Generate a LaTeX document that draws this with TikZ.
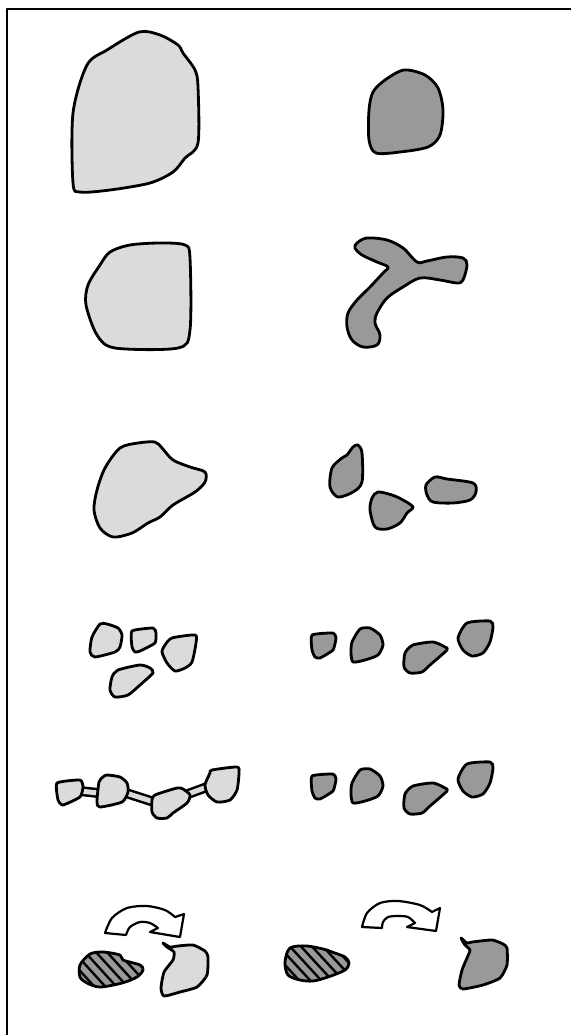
\documentclass[tikz,border=0pt]{standalone}
\usepackage{tikz}
\definecolor{lightgrain}{gray}{0.86}
\definecolor{darkgrain}{gray}{0.6}
\begin{document}
\begin{tikzpicture}[x=1pt,y=-1pt,line join=round,
  grain/.style={draw=black,line width=2.8pt},
  light/.style={grain,fill=lightgrain},
  dark/.style={grain,fill=darkgrain},
  turn/.style={draw=black,line width=2.2pt,fill=white},
  hatchline/.style={line width=2.4pt,black}]
  \useasboundingbox (0,0) rectangle (571,1035);
  \draw[line width=2pt] (7,1035) -- (7,9) -- (571,9);
  % row 1
  \draw[light] plot[smooth cycle,tension=0.5] coordinates {(139,32)(160,35)(178,45)(183,53)(195,70)(198,87)(198,143)(185,158)(173,172)(150,183)(110,190)(80,192)(73,183)(73,113)(87,65)(107,50)};
  \draw[dark] plot[smooth cycle,tension=0.5] coordinates {(404,70)(425,75)(438,88)(443,110)(440,135)(428,147)(400,152)(376,153)(369,140)(369,110)(373,92)(385,80)};
  % row 2
  \draw[light] plot[smooth cycle,tension=0.5] coordinates {(110,252)(130,245)(160,243)(185,245)(190,258)(190,330)(178,348)(115,348)(97,335)(86,305)(88,285)(100,265)};
  \draw[dark] plot[smooth cycle,tension=0.55] coordinates {(357,243)(367,238)(387,240)(403,248)(417,262)(427,261)(447,257)(463,258)(467,265)(463,280)(457,283)(440,280)(420,278)(403,287)(387,298)(377,313)(375,323)(380,335)(377,345)(363,347)(352,340)(347,327)(348,313)(357,300)(370,287)(383,273)(388,267)(377,262)(362,255)(355,248)};
  % row 3
  \draw[light] plot[smooth cycle,tension=0.5] coordinates {(120,448)(138,443)(155,442)(162,448)(173,460)(190,467)(205,472)(205,482)(195,492)(173,505)(160,517)(148,523)(132,533)(113,537)(100,528)(94,510)(97,490)(105,468)};
  \draw[dark] plot[smooth cycle,tension=0.5] coordinates {(358,445)(362,453)(362,482)(353,492)(338,497)(330,487)(332,468)(342,458)(347,455)(353,447)};
  \draw[dark] plot[smooth cycle,tension=0.5] coordinates {(378,492)(392,495)(403,500)(413,507)(407,513)(400,523)(387,529)(375,527)(370,510)(372,498)};
  \draw[dark] plot[smooth cycle,tension=0.5] coordinates {(435,477)(447,479)(473,483)(476,492)(470,500)(453,503)(433,502)(427,495)(426,485)};
  % row 4 left
  \draw[light] plot[smooth cycle,tension=0.4] coordinates {(100,624)(107,624)(118,628)(122,635)(120,647)(115,652)(95,657)(90,652)(92,637)};
  \draw[light] plot[smooth cycle,tension=0.3] coordinates {(132,631)(153,628)(156,633)(155,643)(140,651)(135,652)(132,647)};
  \draw[light] plot[smooth cycle,tension=0.4] coordinates {(172,638)(195,635)(196,643)(192,662)(185,668)(175,671)(167,663)(162,652)(165,645)};
  \draw[light] plot[smooth cycle,tension=0.4] coordinates {(118,670)(140,665)(150,668)(153,673)(140,685)(128,695)(115,697)(110,690)(112,677)};
  % rows 4 and 5 right
  \foreach \dy in {0,141}{
    \begin{scope}[yshift=-\dy pt]
      \draw[dark] plot[smooth cycle,tension=0.3] coordinates {(312,635)(333,633)(336,638)(333,650)(320,658)(315,657)(312,650)};
      \draw[dark] plot[smooth cycle,tension=0.4] coordinates {(360,629)(370,628)(380,635)(383,645)(378,655)(365,660)(353,662)(351,653)(352,642)};
      \draw[dark] plot[smooth cycle,tension=0.4] coordinates {(413,645)(433,642)(445,647)(447,650)(430,665)(422,672)(410,673)(404,667)(405,653)};
      \draw[dark] plot[smooth cycle,tension=0.4] coordinates {(467,623)(490,621)(493,627)(490,642)(483,653)(472,656)(463,650)(458,638)};
    \end{scope}
  }
  % row 5 left chain
  \foreach \a/\b in {{(80,791)}/{(98,793)},{(126,793)}/{(154,802)},{(188,794)}/{(207,787)}}{
    \draw[line width=10pt] \a -- \b;
    \draw[line width=5pt,lightgrain] \a -- \b;
  }
  \draw[light] plot[smooth cycle,tension=0.3] coordinates {(57,783)(80,780)(83,787)(80,797)(63,805)(58,800)};
  \draw[light] plot[smooth cycle,tension=0.4] coordinates {(107,775)(120,777)(127,783)(128,792)(122,802)(100,807)(97,802)(99,782)(103,777)};
  \draw[light] plot[smooth cycle,tension=0.4] coordinates {(155,795)(177,788)(183,789)(190,795)(187,803)(173,813)(167,818)(157,818)(152,812)(152,800)};
  \draw[light] plot[smooth cycle,tension=0.4] coordinates {(212,770)(237,767)(239,773)(237,790)(230,800)(217,802)(208,795)(205,785)(210,773)};
  % row 6 left
  \draw[turn] plot[smooth] coordinates {(105,933)(112,918)(127,908)(147,906)(165,910)(175,917)} -- (184,914) -- (180,937) -- (150,932) -- (158,928) -- plot[smooth] coordinates {(158,928)(150,923)(140,922)(130,927)(126,935)} -- cycle;
  \begin{scope}
    \clip plot[smooth cycle,tension=0.5] coordinates {(80,965)(90,954)(103,952)(120,955)(123,960)(140,965)(143,970)(137,977)(122,983)(100,987)(87,983)(80,977)};
    \fill[darkgrain] (70,940) rectangle (150,995);
    \foreach \s in {0,11,...,132}{\draw[hatchline] (30+\s,940) -- (80+\s,995);}
  \end{scope}
  \draw[grain] plot[smooth cycle,tension=0.5] coordinates {(80,965)(90,954)(103,952)(120,955)(123,960)(140,965)(143,970)(137,977)(122,983)(100,987)(87,983)(80,977)};
  \draw[light] plot[smooth cycle,tension=0.35] coordinates {(163,943)(170,947)(178,946)(193,945)(205,951)(208,957)(207,975)(197,987)(180,992)(164,996)(161,988)(164,972)(173,960)(174,952)(167,947)};
  % row 6 right
  \draw[turn] plot[smooth] coordinates {(362,927)(367,913)(380,903)(398,901)(420,905)(432,912)} -- (440,908) -- (436,931) -- (407,927) -- (415,923) -- plot[smooth] coordinates {(415,923)(408,917)(398,916)(388,917)(383,922)(382,928)} -- cycle;
  \begin{scope}
    \clip plot[smooth cycle,tension=0.5] coordinates {(290,948)(307,946)(327,950)(332,952)(345,957)(349,963)(345,970)(328,977)(313,981)(300,980)(288,975)(285,962)};
    \fill[darkgrain] (280,940) rectangle (355,990);
    \foreach \s in {0,11,...,132}{\draw[hatchline] (240+\s,940) -- (286+\s,990);}
  \end{scope}
  \draw[grain] plot[smooth cycle,tension=0.5] coordinates {(290,948)(307,946)(327,950)(332,952)(345,957)(349,963)(345,970)(328,977)(313,981)(300,980)(288,975)(285,962)};
  \draw[dark] plot[smooth cycle,tension=0.35] coordinates {(461,938)(467,943)(472,942)(492,940)(503,944)(507,948)(507,965)(500,978)(483,985)(463,989)(459,985)(462,970)(467,958)(470,950)(465,945)};
\end{tikzpicture}
\end{document}
